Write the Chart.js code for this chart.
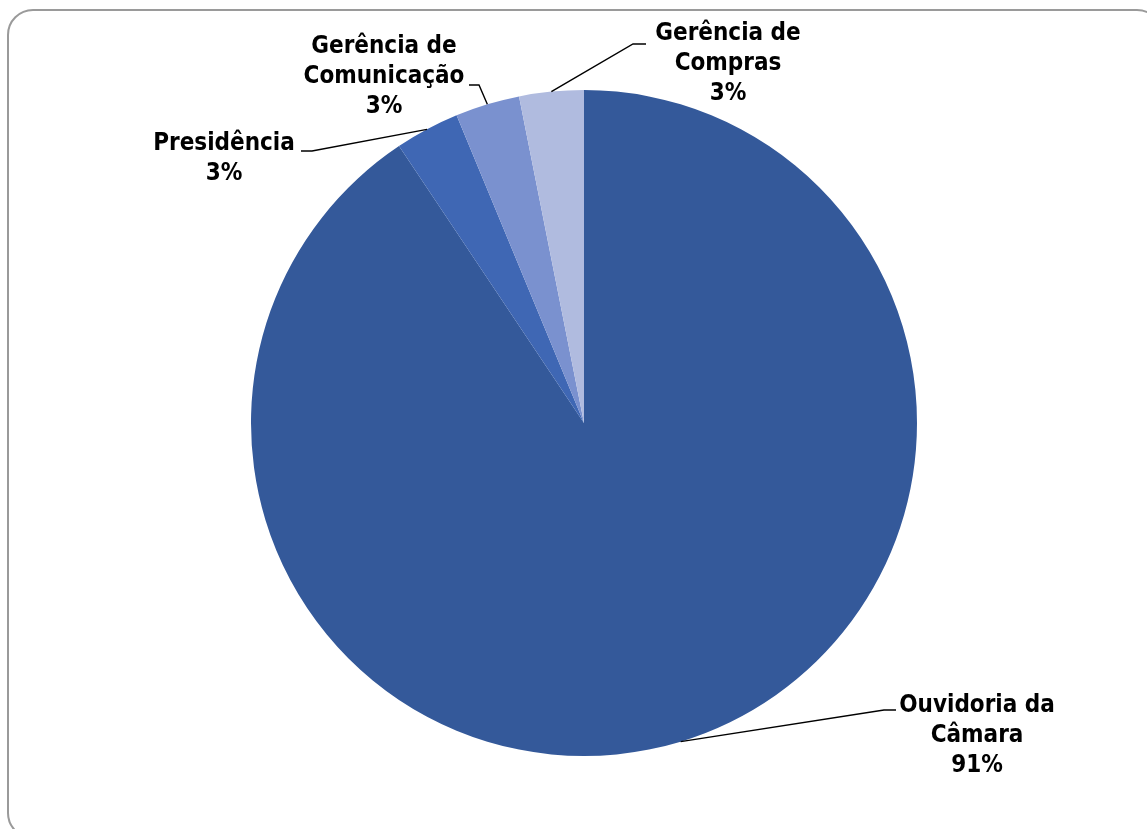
<!DOCTYPE html>
<html>
<head>
<meta charset="utf-8">
<script src="https://cdn.jsdelivr.net/npm/chart.js@4/dist/chart.umd.min.js"></script>
<style>
  html, body { margin: 0; padding: 0; background: #fff; overflow: hidden; }
  #wrap { position: relative; width: 1147px; height: 829px; }
  #frame {
    position: absolute; left: 7px; top: 9px; width: 1156px; height: 830px;
    border: 2px solid #9a9a9a; border-radius: 26px; box-sizing: border-box;
  }
  #pie { position: absolute; left: 0; top: 0; }
</style>
</head>
<body>
<div id="wrap">
  <div id="frame"></div>
  <canvas id="pie" width="1147" height="829"></canvas>
</div>
<script>
// Setores e número de manifestações
const sectors = ['Ouvidoria da Câmara', 'Presidência', 'Gerência de Comunicação', 'Gerência de Compras'];
const counts = [29, 1, 1, 1];
// Rótulos quebrados em linhas como aparecem no gráfico
const labelLines = [
  ['Ouvidoria da', 'Câmara'],
  ['Presidência'],
  ['Gerência de', 'Comunicação'],
  ['Gerência de', 'Compras']
];
const sliceColors = ['#34599a', '#3f67b4', '#7a91cf', '#b0bbdf'];

// Posição de cada rótulo: centro do texto, primeira linha de base,
// cotovelo da linha guia e ponta que encosta no texto
const labelLayout = [
  { cx: 977, y: 712, elbow: [884, 710], tip: [896, 710] },
  { cx: 224, y: 150, elbow: [312, 151], tip: [301, 151] },
  { cx: 384, y: 53,  elbow: [479, 85],  tip: [469, 85] },
  { cx: 728, y: 40,  elbow: [633, 44],  tip: [646, 44] }
];

const LINE_HEIGHT = 30;
const FONT = 'bold 24px "DejaVu Sans Condensed", "DejaVu Sans", sans-serif';

const pieLabels = {
  id: 'pieLabels',
  afterDatasetsDraw(chart) {
    const ctx = chart.ctx;
    const meta = chart.getDatasetMeta(0);
    const data = chart.data.datasets[0].data;
    const total = data.reduce((a, b) => a + b, 0);

    ctx.save();
    meta.data.forEach((arc, i) => {
      const lay = labelLayout[i];
      const mid = (arc.startAngle + arc.endAngle) / 2;
      const ax = arc.x + Math.cos(mid) * arc.outerRadius;
      const ay = arc.y + Math.sin(mid) * arc.outerRadius;

      // leader line
      ctx.strokeStyle = '#000';
      ctx.lineWidth = 1.4;
      ctx.beginPath();
      ctx.moveTo(ax, ay);
      ctx.lineTo(lay.elbow[0], lay.elbow[1]);
      ctx.lineTo(lay.tip[0], lay.tip[1]);
      ctx.stroke();

      // label text
      const pct = Math.round(data[i] / total * 100) + '%';
      const lines = labelLines[i].concat([pct]);
      ctx.fillStyle = '#000';
      ctx.font = FONT;
      ctx.textAlign = 'center';
      ctx.textBaseline = 'alphabetic';
      lines.forEach((t, k) => ctx.fillText(t, lay.cx, lay.y + k * LINE_HEIGHT));
    });
    ctx.restore();
  }
};

new Chart(document.getElementById('pie').getContext('2d'), {
  type: 'pie',
  data: {
    labels: sectors,
    datasets: [{
      data: counts,
      backgroundColor: sliceColors,
      borderWidth: 0
    }]
  },
  options: {
    responsive: false,
    animation: false,
    layout: { padding: { left: 251, top: 90, right: 230, bottom: 73 } },
    plugins: {
      legend: { display: false },
      tooltip: { enabled: false }
    }
  },
  plugins: [pieLabels]
});
</script>
</body>
</html>
